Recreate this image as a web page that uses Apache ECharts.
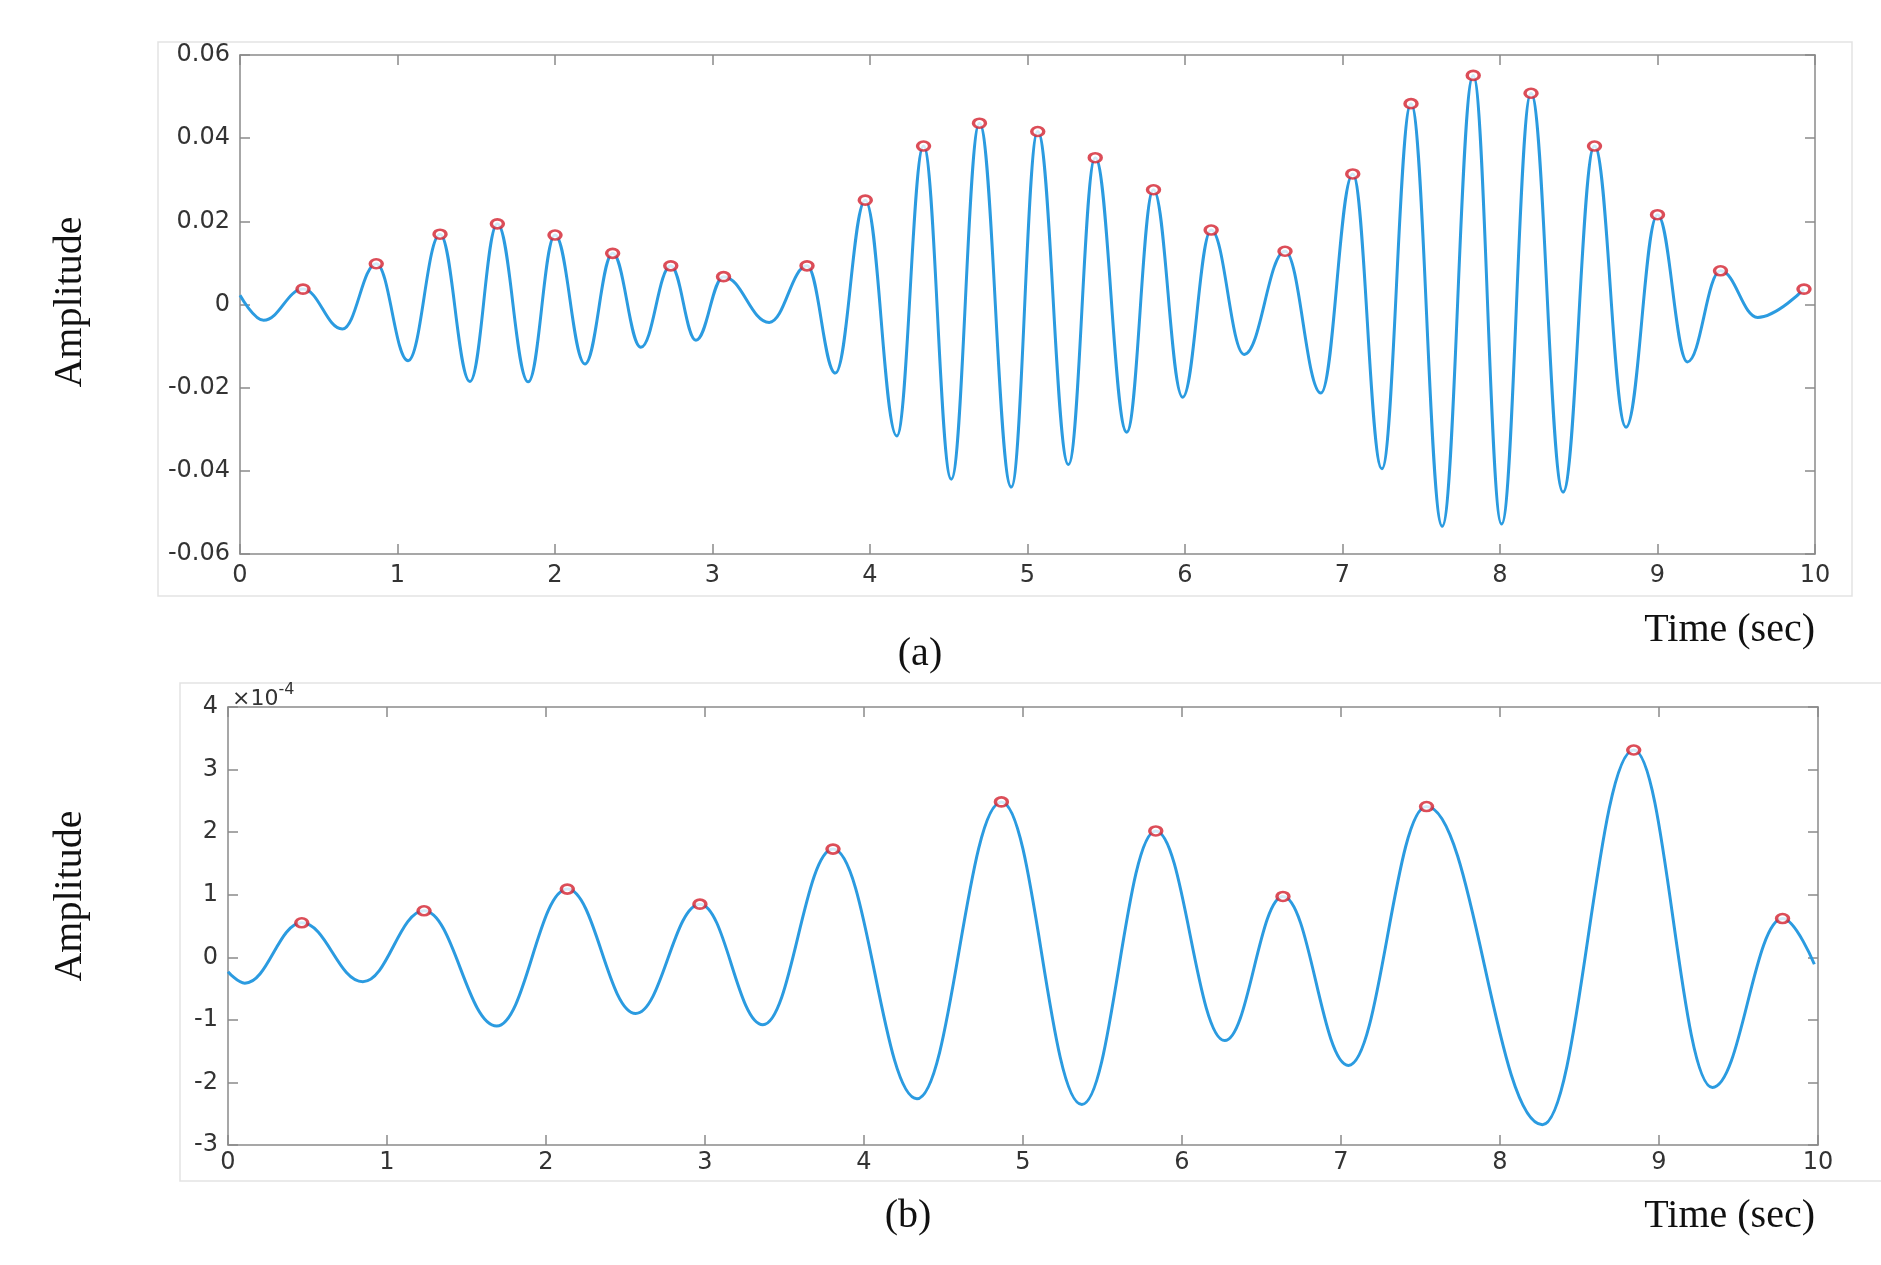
<!DOCTYPE html>
<html>
<head>
<meta charset="utf-8">
<script src="https://cdn.jsdelivr.net/npm/echarts@6/dist/echarts.min.js"></script>
<style>
html,body{margin:0;padding:0;background:#fff;}
#c{width:1881px;height:1265px;}
</style>
</head>
<body>
<div id="c"></div>
<script>
// ---------- DATA ----------
// Panel (a): amplitude
const topPeakTime = [0.40, 0.865, 1.27, 1.634, 2.00, 2.366, 2.735, 3.07, 3.60, 3.97, 4.34, 4.695, 5.065, 5.43, 5.80, 6.166, 6.635, 7.065, 7.435, 7.83, 8.197, 8.60, 9.00, 9.40, 9.93];
const topPeakAmp  = [0.0037, 0.0098, 0.0169, 0.0194, 0.0167, 0.0123, 0.0093, 0.0067, 0.0093, 0.0251, 0.0381, 0.0436, 0.0416, 0.0353, 0.0276, 0.0179, 0.0128, 0.0314, 0.0483, 0.0551, 0.0508, 0.0381, 0.0216, 0.0081, 0.0037];
const topTroughTime = [0.15, 0.65, 1.067, 1.46, 1.83, 2.19, 2.545, 2.895, 3.36, 3.78, 4.17, 4.516, 4.897, 5.26, 5.63, 5.985, 6.376, 6.863, 7.25, 7.633, 8.01, 8.40, 8.80, 9.19, 9.636];
const topTroughAmp  = [-0.0038, -0.0059, -0.0135, -0.0185, -0.0186, -0.0143, -0.0103, -0.0086, -0.0043, -0.0165, -0.0316, -0.0420, -0.0439, -0.0385, -0.0307, -0.0223, -0.0120, -0.0213, -0.0395, -0.0533, -0.0528, -0.0451, -0.0295, -0.0138, -0.0031];
const topEdgeTime = [0];
const topEdgeAmp  = [0.0022];
const topYTicks = [-0.06, -0.04, -0.02, 0, 0.02, 0.04, 0.06];

// Panel (b): amplitude in units of 1e-4
const botPeakTime = [0.464, 1.233, 2.134, 2.968, 3.805, 4.864, 5.835, 6.635, 7.538, 8.841, 9.777];
const botPeakAmp  = [0.551, 0.743, 1.09, 0.849, 1.729, 2.483, 2.019, 0.972, 2.409, 3.313, 0.619];
const botTroughTime = [0.106, 0.848, 1.69, 2.564, 3.364, 4.333, 5.37, 6.269, 7.047, 8.267, 9.336];
const botTroughAmp  = [-0.415, -0.39, -1.097, -0.898, -1.078, -2.26, -2.353, -1.331, -1.728, -2.675, -2.08];
const botEdgeTime = [0, 9.977];
const botEdgeAmp  = [-0.23, -0.111];
const botYTicks = [-3, -2, -1, 0, 1, 2, 3, 4];

const xTicks = [0, 1, 2, 3, 4, 5, 6, 7, 8, 9, 10];

// ---------- build series data ----------
function merge(tLists, aLists) {
  const pts = [];
  tLists.forEach((tl, i) => tl.forEach((t, j) => pts.push([t, aLists[i][j]])));
  pts.sort((p, q) => p[0] - q[0]);
  return pts;
}
function zip(t, a) { return t.map((v, i) => [v, a[i]]); }

const topLine = merge([topEdgeTime, topPeakTime, topTroughTime], [topEdgeAmp, topPeakAmp, topTroughAmp]);
const botLine = merge([botEdgeTime, botPeakTime, botTroughTime], [botEdgeAmp, botPeakAmp, botTroughAmp]);

const AX = '#8a8a8a';
const LBL = { fontFamily: 'DejaVu Sans', fontSize: 24, color: '#333333' };
const SERIF = 'Liberation Serif';

function xAxes(gi, labelMargin) {
  return [
    { gridIndex: gi, type: 'value', min: xTicks[0], max: xTicks[xTicks.length - 1], interval: 1, position: 'bottom',
      axisLine: { show: true, onZero: false, lineStyle: { color: AX, width: 1.5 } },
      axisTick: { show: true, inside: true, length: 10, lineStyle: { color: AX, width: 1.5 } },
      axisLabel: Object.assign({ margin: labelMargin }, LBL),
      splitLine: { show: false } },
    { gridIndex: gi, type: 'value', min: xTicks[0], max: xTicks[xTicks.length - 1], interval: 1, position: 'top',
      axisLine: { show: true, onZero: false, lineStyle: { color: AX, width: 1.5 } },
      axisTick: { show: true, inside: true, length: 10, lineStyle: { color: AX, width: 1.5 } },
      axisLabel: { show: false }, splitLine: { show: false } }
  ];
}
function yAxes(gi, ticks, interval, fmt) {
  return [
    { gridIndex: gi, type: 'value', min: ticks[0], max: ticks[ticks.length - 1], interval: interval, position: 'left',
      axisLine: { show: true, onZero: false, lineStyle: { color: AX, width: 1.5 } },
      axisTick: { show: true, inside: true, length: 10, lineStyle: { color: AX, width: 1.5 } },
      axisLabel: Object.assign({ margin: 10, formatter: fmt }, LBL),
      splitLine: { show: false } },
    { gridIndex: gi, type: 'value', min: ticks[0], max: ticks[ticks.length - 1], interval: interval, position: 'right',
      axisLine: { show: true, onZero: false, lineStyle: { color: AX, width: 1.5 } },
      axisTick: { show: true, inside: true, length: 10, lineStyle: { color: AX, width: 1.5 } },
      axisLabel: { show: false }, splitLine: { show: false } }
  ];
}

const lineStyle = { color: '#2b9be0', width: 3 };
const peakStyle = { symbol: 'circle', symbolSize: [12, 9], itemStyle: { color: '#ffffff', borderColor: '#d3202e', borderWidth: 3 } };

const option = {
  backgroundColor: '#ffffff',
  animation: false,
  grid: [
    { left: 240, top: 55, width: 1575, height: 499 },
    { left: 228, top: 707, width: 1590, height: 438 }
  ],
  xAxis: [].concat(xAxes(0, 10), xAxes(1, 6)),
  yAxis: [].concat(
    yAxes(0, topYTicks, 0.02, v => (Math.abs(v) < 1e-9 ? '0' : v.toFixed(2))),
    yAxes(1, botYTicks, 1, v => String(Math.round(v)))
  ),
  series: [
    { type: 'line', xAxisIndex: 0, yAxisIndex: 0, data: topLine, showSymbol: false, smooth: 0.4, smoothMonotone: 'x', lineStyle: lineStyle, z: 2 },
    Object.assign({ type: 'scatter', xAxisIndex: 0, yAxisIndex: 0, data: zip(topPeakTime, topPeakAmp), z: 3 }, peakStyle),
    { type: 'line', xAxisIndex: 2, yAxisIndex: 2, data: botLine, showSymbol: false, smooth: 0.4, smoothMonotone: 'x', lineStyle: lineStyle, z: 2 },
    Object.assign({ type: 'scatter', xAxisIndex: 2, yAxisIndex: 2, data: zip(botPeakTime, botPeakAmp), z: 3 }, peakStyle)
  ],
  graphic: [
    { type: 'rect', z: -1, shape: { x: 158, y: 42, width: 1694, height: 554 }, style: { fill: 'none', stroke: '#e3e3e3', lineWidth: 1.5 } },
    { type: 'rect', z: -1, shape: { x: 180, y: 683, width: 1710, height: 498 }, style: { fill: 'none', stroke: '#e3e3e3', lineWidth: 1.5 } },
    { type: 'text', x: 70, y: 302, rotation: Math.PI / 2, style: { text: 'Amplitude', font: '40px "' + SERIF + '"', fill: '#111', align: 'center', verticalAlign: 'middle' } },
    { type: 'text', x: 70, y: 896, rotation: Math.PI / 2, style: { text: 'Amplitude', font: '40px "' + SERIF + '"', fill: '#111', align: 'center', verticalAlign: 'middle' } },
    { type: 'text', x: 920, y: 654, style: { text: '(a)', font: '40px "' + SERIF + '"', fill: '#111', align: 'center', verticalAlign: 'middle' } },
    { type: 'text', x: 908, y: 1216, style: { text: '(b)', font: '40px "' + SERIF + '"', fill: '#111', align: 'center', verticalAlign: 'middle' } },
    { type: 'text', x: 1815, y: 630, style: { text: 'Time (sec)', font: '40px "' + SERIF + '"', fill: '#111', align: 'right', verticalAlign: 'middle' } },
    { type: 'text', x: 1815, y: 1216, style: { text: 'Time (sec)', font: '40px "' + SERIF + '"', fill: '#111', align: 'right', verticalAlign: 'middle' } },
    { type: 'text', x: 232, y: 696, style: {
        text: '{a|×10}{b|-4}', verticalAlign: 'middle', align: 'left',
        rich: {
          a: { fontFamily: 'DejaVu Sans', fontSize: 22, fill: '#333333', verticalAlign: 'bottom' },
          b: { fontFamily: 'DejaVu Sans', fontSize: 16, fill: '#333333', verticalAlign: 'top', padding: [0, 0, 12, 0] }
        } } }
  ]
};

const chart = echarts.init(document.getElementById('c'), null, { renderer: 'canvas' });
chart.setOption(option);
</script>
</body>
</html>
